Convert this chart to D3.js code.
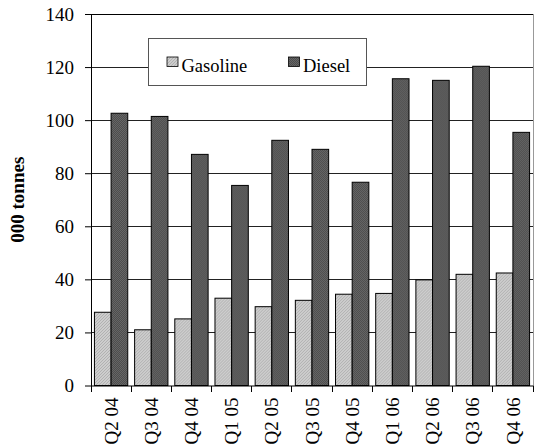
<!DOCTYPE html>
<html><head><meta charset="utf-8">
<script src="https://cdn.jsdelivr.net/npm/d3@7"></script>
<style>
html,body{margin:0;padding:0;background:#fff;}
svg{display:block;font-family:"Liberation Serif";}
text{font-family:"Liberation Serif";}
</style></head>
<body>
<svg id="chart" width="534" height="447"></svg>
<script>
const categories = ["Q2 04","Q3 04","Q4 04","Q1 05","Q2 05","Q3 05","Q4 05","Q1 06","Q2 06","Q3 06","Q4 06"];
const gasoline = [27.6, 21.0, 25.1, 32.9, 29.7, 32.1, 34.4, 34.7, 39.8, 41.9, 42.4];
const diesel = [102.6, 101.4, 87.1, 75.4, 92.4, 89.0, 76.6, 115.6, 115.0, 120.3, 95.4];
const seriesNames = ["Gasoline", "Diesel"];
const yTicks = [0, 20, 40, 60, 80, 100, 120, 140];
const yLabel = "000 tonnes";

const FONT = '"Liberation Serif", "Times New Roman"';
const svg = d3.select("#chart");
const m = {left: 91, right: 533, top: 14, bottom: 385.5};

const defs = svg.append("defs");
const pg = defs.append("pattern").attr("id","pGas").attr("patternUnits","userSpaceOnUse")
  .attr("width",3).attr("height",3);
pg.append("rect").attr("width",3).attr("height",3).attr("fill","#cdcdcd");
pg.append("path").attr("d","M0,3 L3,0").attr("stroke","#a9a9a9").attr("stroke-width",0.8);
const pd = defs.append("pattern").attr("id","pDie").attr("patternUnits","userSpaceOnUse")
  .attr("width",2).attr("height",2);
pd.append("rect").attr("width",2).attr("height",2).attr("fill","#666");
pd.append("rect").attr("width",1).attr("height",1).attr("fill","#4d4d4d");
pd.append("rect").attr("x",1).attr("y",1).attr("width",1).attr("height",1).attr("fill","#4d4d4d");
const fills = ["url(#pGas)", "url(#pDie)"];

const x = d3.scaleBand().domain(categories).range([m.left, m.right]).paddingInner(0).paddingOuter(0);
const y = d3.scaleLinear().domain([0, 140]).range([m.bottom, m.top]);
const inner = d3.scaleBand().domain(seriesNames).range([0, x.bandwidth()]).paddingInner(0).paddingOuter(0.206);

// gridlines
svg.append("g").selectAll("line").data(yTicks.filter(d => d > 0)).join("line")
  .attr("x1", m.left).attr("x2", m.right)
  .attr("y1", d => y(d)).attr("y2", d => y(d))
  .attr("stroke", "#222").attr("stroke-width", 1).attr("shape-rendering","crispEdges");
// right border
svg.append("line").attr("x1", m.right).attr("x2", m.right).attr("y1", m.top).attr("y2", m.bottom)
  .attr("stroke","#999").attr("shape-rendering","crispEdges");

// bars
const data = categories.map((c, i) => ({c, vals: [gasoline[i], diesel[i]]}));
const groups = svg.append("g").selectAll("g").data(data).join("g")
  .attr("transform", d => `translate(${x(d.c)},0)`);
groups.selectAll("rect").data(d => d.vals.map((v, j) => ({v, s: seriesNames[j], j}))).join("rect")
  .attr("x", d => inner(d.s)).attr("width", inner.bandwidth())
  .attr("y", d => y(d.v)).attr("height", d => y(0) - y(d.v))
  .attr("fill", d => fills[d.j]).attr("stroke", "#000").attr("stroke-width", 1);

// y axis
const yAxis = svg.append("g").attr("transform", `translate(${m.left},0)`)
  .call(d3.axisLeft(y).tickValues(yTicks).tickSize(6).tickPadding(11).tickSizeOuter(0));
yAxis.attr("font-family", null).attr("font-size", null);
yAxis.select(".domain").attr("stroke","#000");
yAxis.selectAll(".tick line").attr("stroke","#000");
yAxis.selectAll("text").style("font-family", FONT).style("font-size", "19px").attr("fill","#000");

// x axis
const xAxis = svg.append("g").attr("transform", `translate(0,${m.bottom})`)
  .call(d3.axisBottom(x).tickSize(0).tickSizeOuter(0));
xAxis.attr("font-family", null).attr("font-size", null);
xAxis.select(".domain").attr("stroke","#000");
xAxis.selectAll(".tick text").style("font-family", FONT).style("font-size", "19px").attr("fill","#000")
  .attr("transform","rotate(-90)").attr("text-anchor","end")
  .attr("x", -12).attr("y", 0).attr("dy","0.35em");
// boundary ticks
const bounds = categories.map(c => x(c)).concat([m.right]);
svg.append("g").selectAll("line").data(bounds).join("line")
  .attr("x1", d => d).attr("x2", d => d).attr("y1", m.bottom).attr("y2", m.bottom + 6)
  .attr("stroke","#000").attr("shape-rendering","crispEdges");

// top line
svg.append("line").attr("x1", m.left).attr("x2", m.right).attr("y1", m.top).attr("y2", m.top)
  .attr("stroke","#000").attr("shape-rendering","crispEdges");

// y label
svg.append("text").attr("transform", `translate(24,${(m.top + m.bottom)/2}) rotate(-90)`)
  .attr("text-anchor","middle").style("font-family", FONT).style("font-size","19px").style("font-weight","bold")
  .text(yLabel);

// legend
const lg = svg.append("g");
lg.append("rect").attr("x",148.5).attr("y",38.5).attr("width",218).attr("height",47)
  .attr("fill","#fff").attr("stroke","#555").attr("stroke-width",1);
const lx = [167, 288.5];
seriesNames.forEach((s, i) => {
  lg.append("rect").attr("x", lx[i]).attr("y", 57).attr("width", 11).attr("height", 9.5)
    .attr("fill", fills[i]).attr("stroke","#000").attr("stroke-width",0.8);
  lg.append("text").attr("x", lx[i] + 14.5).attr("y", 71.5).style("font-family", FONT).style("font-size", "18.5px")
    .text(s);
});
</script>
</body></html>
